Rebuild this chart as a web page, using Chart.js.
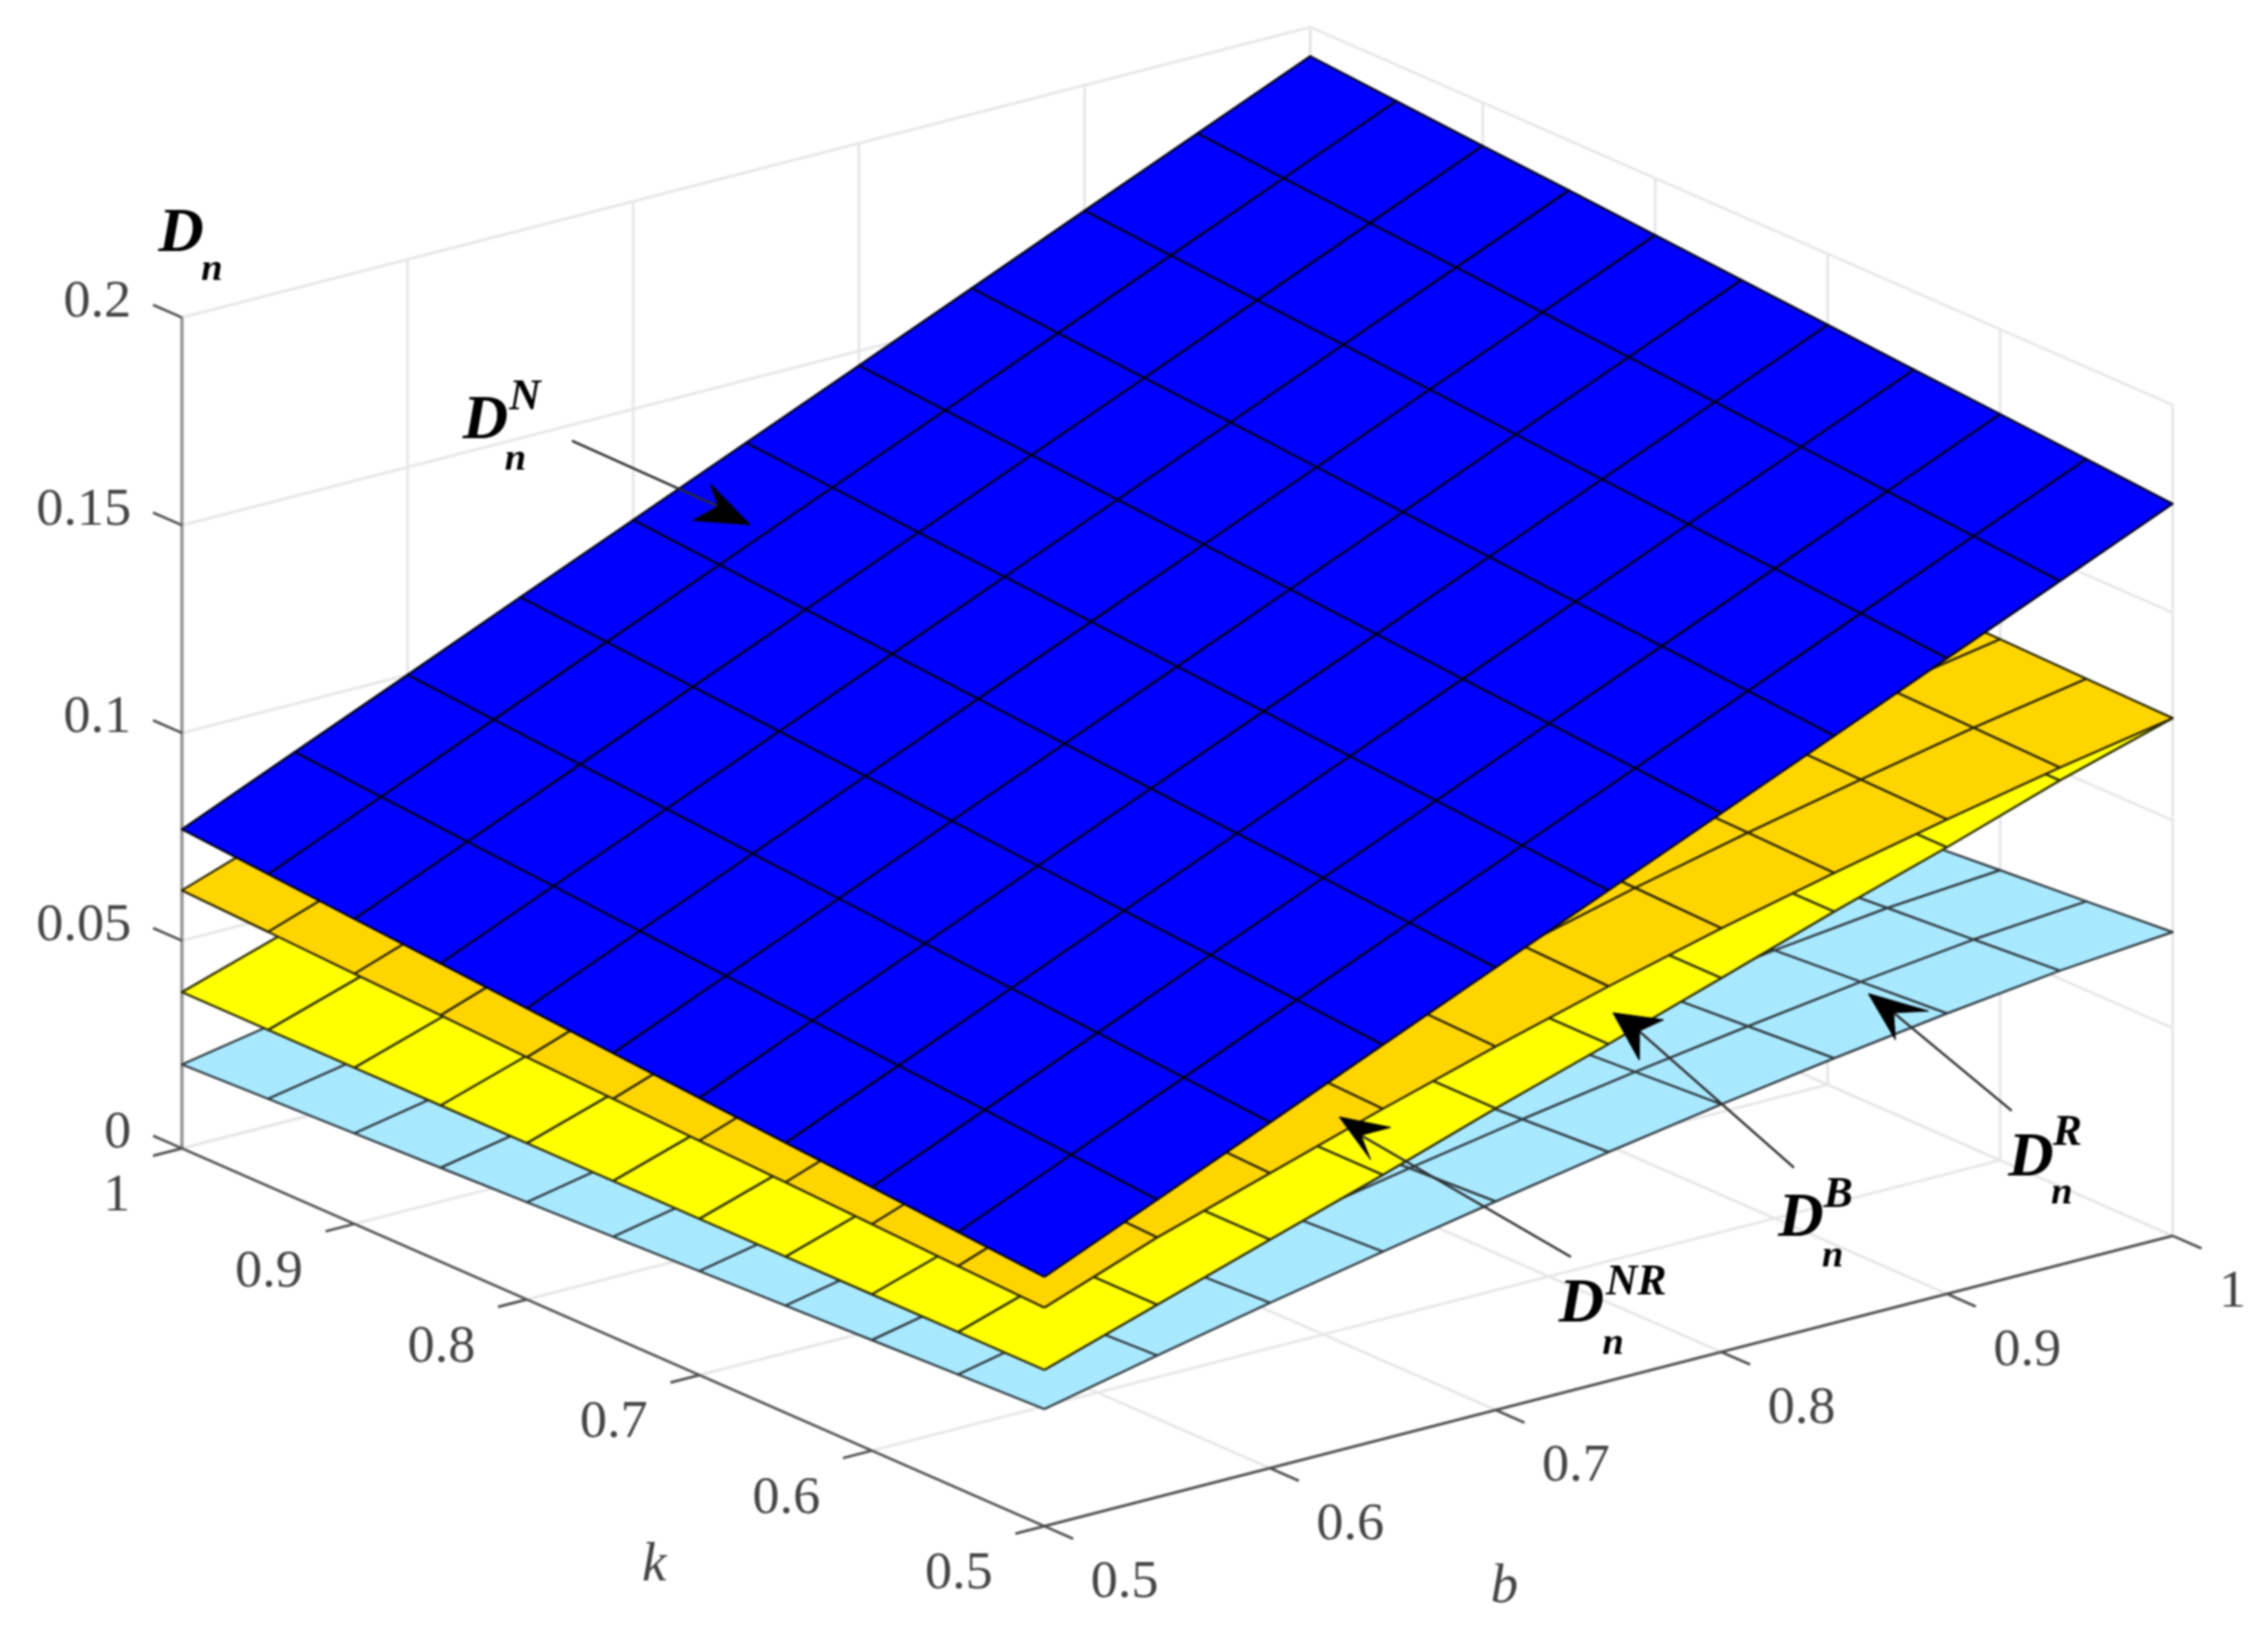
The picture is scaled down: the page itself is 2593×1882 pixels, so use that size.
<!DOCTYPE html>
<html>
<head>
<meta charset="utf-8">
<title>Dn surfaces</title>
<script src="https://cdn.jsdelivr.net/npm/chart.js@4"></script>
<style>
  html, body { margin: 0; padding: 0; background: #fff; overflow: hidden; }
  #wrap { width: 2593px; height: 1882px; }
  /* the source figure is a soft upscaled bitmap */
  #chart { filter: blur(0.9px); }
</style>
</head>
<body>
<div id="wrap"><canvas id="chart" width="2593" height="1882"></canvas></div>
<script>
// axes
const bValues = [0.5, 0.55, 0.6, 0.65, 0.7, 0.75, 0.8, 0.85, 0.9, 0.95, 1];
const kValues = [0.5, 0.55, 0.6, 0.65, 0.7, 0.75, 0.8, 0.85, 0.9, 0.95, 1];
const bTicks = [0.5, 0.6, 0.7, 0.8, 0.9, 1];
const kTicks = [0.5, 0.6, 0.7, 0.8, 0.9, 1];
const zTicks = [0, 0.05, 0.1, 0.15, 0.2];
const bTickLabels = ['0.5', '0.6', '0.7', '0.8', '0.9', '1'];
const kTickLabels = ['0.5', '0.6', '0.7', '0.8', '0.9', '1'];
const zTickLabels = ['0', '0.05', '0.1', '0.15', '0.2'];

// surfaces, one row per k (0.5 -> 1), one value per b (0.5 -> 1)
const surfaceN = [
  [.0600, .0716, .0832, .0949, .1065, .1181, .1297, .1413, .1530, .1646, .1762],
  [.0617, .0733, .0849, .0966, .1082, .1198, .1314, .1430, .1547, .1663, .1779],
  [.0634, .0750, .0866, .0983, .1099, .1215, .1331, .1447, .1564, .1680, .1796],
  [.0650, .0766, .0882, .0999, .1115, .1231, .1347, .1463, .1580, .1696, .1812],
  [.0667, .0783, .0899, .1016, .1132, .1248, .1364, .1480, .1597, .1713, .1829],
  [.0684, .0800, .0916, .1033, .1149, .1265, .1381, .1497, .1614, .1730, .1846],
  [.0701, .0817, .0933, .1050, .1166, .1282, .1398, .1514, .1631, .1747, .1863],
  [.0718, .0834, .0950, .1067, .1183, .1299, .1415, .1531, .1648, .1764, .1880],
  [.0734, .0850, .0966, .1083, .1199, .1315, .1431, .1547, .1664, .1780, .1896],
  [.0751, .0867, .0983, .1100, .1216, .1332, .1448, .1564, .1681, .1797, .1913],
  [.0768, .0884, .1000, .1117, .1233, .1349, .1465, .1581, .1698, .1814, .1930]
];
const surfaceNR = [
  [.0526, .0625, .0710, .0795, .0875, .0950, .1020, .1083, .1142, .1197, .1246],
  [.0535, .0634, .0718, .0803, .0882, .0957, .1026, .1089, .1147, .1202, .1250],
  [.0545, .0643, .0727, .0811, .0890, .0964, .1032, .1094, .1152, .1206, .1254],
  [.0555, .0652, .0735, .0819, .0897, .0970, .1039, .1100, .1157, .1211, .1258],
  [.0564, .0661, .0744, .0827, .0904, .0977, .1045, .1106, .1162, .1215, .1262],
  [.0574, .0670, .0752, .0835, .0912, .0984, .1051, .1112, .1168, .1220, .1266],
  [.0583, .0679, .0760, .0842, .0919, .0991, .1057, .1117, .1173, .1225, .1270],
  [.0593, .0688, .0769, .0850, .0926, .0998, .1063, .1123, .1178, .1229, .1274],
  [.0602, .0697, .0777, .0858, .0933, .1004, .1070, .1129, .1183, .1234, .1278],
  [.0612, .0706, .0786, .0866, .0941, .1011, .1076, .1134, .1188, .1238, .1282],
  [.0621, .0715, .0794, .0874, .0948, .1018, .1082, .1140, .1193, .1243, .1286]
];
// D^B shows no visible change along k, the same b profile is read on every row
const profileB = [.0376, .0463, .0550, .0636, .0726, .0811, .0900, .0990, .1075, .1166, .1246];
const surfaceB = kValues.map(() => profileB);
const surfaceR = [
  [.0282, .0341, .0398, .0451, .0502, .0551, .0596, .0637, .0675, .0708, .0731],
  [.0274, .0332, .0388, .0440, .0491, .0539, .0583, .0623, .0660, .0692, .0714],
  [.0266, .0323, .0379, .0430, .0479, .0526, .0570, .0609, .0645, .0677, .0698],
  [.0258, .0314, .0369, .0419, .0468, .0514, .0557, .0595, .0631, .0661, .0681],
  [.0250, .0305, .0359, .0409, .0456, .0502, .0544, .0581, .0616, .0645, .0665],
  [.0242, .0296, .0349, .0398, .0445, .0489, .0530, .0567, .0601, .0629, .0648],
  [.0234, .0288, .0340, .0387, .0434, .0477, .0517, .0553, .0586, .0614, .0632],
  [.0226, .0279, .0330, .0377, .0422, .0465, .0504, .0539, .0571, .0598, .0615],
  [.0218, .0270, .0320, .0366, .0411, .0453, .0491, .0525, .0557, .0582, .0599],
  [.0210, .0261, .0311, .0356, .0399, .0440, .0478, .0511, .0542, .0567, .0582],
  [.0202, .0252, .0301, .0345, .0388, .0428, .0465, .0497, .0527, .0551, .0566]
];

const WALL = '#e6e6e6';
const AXIS = '#4f4f4f';

// Chart.js has no 3D, so (b, k, z) goes through a fixed oblique view onto the x/y scales
function project(b, k, z) {
  const u = (b - 0.5) / 0.5, v = (k - 0.5) / 0.5;
  return { x: 1194 + 1290 * u - 986 * v, y: 1745 - 332 * u - 432 * v - 4750 * z };
}

function line(points, color, width) {
  return {
    data: points, showLine: true, fill: false, tension: 0,
    borderColor: color, borderWidth: width, pointRadius: 0, clip: false
  };
}

function cell(points, fillColor, edgeColor, width) {
  return {
    data: points, showLine: true, fill: 'shape', tension: 0,
    backgroundColor: fillColor, borderColor: edgeColor, borderWidth: width,
    borderJoinStyle: 'round', pointRadius: 0, clip: false
  };
}

function wallDatasets() {
  const out = [];
  zTicks.forEach(z => {
    out.push(line([project(0.5, 1, z), project(1, 1, z), project(1, 0.5, z)], WALL, 3));
  });
  bTicks.forEach(b => {
    out.push(line([project(b, 0.5, 0), project(b, 1, 0), project(b, 1, 0.2)], WALL, 3));
  });
  kTicks.forEach(k => {
    out.push(line([project(0.5, k, 0), project(1, k, 0), project(1, k, 0.2)], WALL, 3));
  });
  return out;
}

function axisDatasets() {
  const out = [];
  out.push(line([project(0.5, 1, 0), project(0.5, 1, 0.2)], '#9a9a9a', 4));
  out.push(line([project(0.5, 1, 0), project(0.5, 0.5, 0)], AXIS, 3));
  out.push(line([project(0.5, 0.5, 0), project(1, 0.5, 0)], AXIS, 3));
  zTicks.forEach(z => out.push(line([project(0.5, 1, z), project(0.5, 1.0167, z)], AXIS, 3)));
  kTicks.forEach(k => out.push(line([project(0.5, k, 0), project(0.4872, k, 0)], AXIS, 3)));
  bTicks.forEach(b => out.push(line([project(b, 0.5, 0), project(b, 0.4833, 0)], AXIS, 3)));
  return out;
}

function surfaceDatasets(rows, fillColor, edgeColor) {
  const out = [];
  // back cells first
  for (let j = kValues.length - 2; j >= 0; j--) {
    for (let i = bValues.length - 2; i >= 0; i--) {
      out.push(cell([
        project(bValues[i], kValues[j], rows[j][i]),
        project(bValues[i + 1], kValues[j], rows[j][i + 1]),
        project(bValues[i + 1], kValues[j + 1], rows[j + 1][i + 1]),
        project(bValues[i], kValues[j + 1], rows[j + 1][i]),
        project(bValues[i], kValues[j], rows[j][i])
      ], fillColor, edgeColor, 2.5));
    }
  }
  return out;
}

// callout arrows: shaft start, then head tip, two barbs and notch
const arrows = [
  { from: [654, 504], tip: [858, 600], barbA: [812, 553], barbB: [792, 595], notch: [821, 579] },
  { from: [1796, 1437], tip: [1531, 1277], barbA: [1590, 1289], barbB: [1567, 1326], notch: [1556, 1298] },
  { from: [2051, 1335], tip: [1844, 1158], barbA: [1902, 1166], barbB: [1874, 1212], notch: [1874, 1179] },
  { from: [2300, 1270], tip: [2136, 1136], barbA: [2205, 1156], barbB: [2167, 1189], notch: [2165, 1158] }
];

function arrowDatasets() {
  const out = [];
  const pt = p => ({ x: p[0], y: p[1] });
  arrows.forEach(a => {
    out.push(line([pt(a.from), pt(a.notch)], '#2b2b2b', 2.6));
    out.push(cell([pt(a.tip), pt(a.barbA), pt(a.notch), pt(a.barbB), pt(a.tip)], '#000', '#000', 1));
  });
  return out;
}

// paint order, bottom to top. Chart.js paints the first dataset last, hence the reverse
const datasets = [
  ...wallDatasets(),
  ...axisDatasets(),
  ...surfaceDatasets(surfaceR, '#a9e9ff', '#2f3a40'),
  ...surfaceDatasets(surfaceB, '#ffff00', '#2a2a00'),
  ...surfaceDatasets(surfaceNR, '#ffd500', '#2a2400'),
  ...surfaceDatasets(surfaceN, '#0000ff', '#00001e'),
  ...arrowDatasets()
].reverse();

const SERIF = '"Liberation Serif", "Times New Roman", serif';

// name labels: D with subscript n and optional superscript
const nameLabels = [
  { x: 181, y: 287, sup: '', subX: 230, subY: 320 },
  { x: 529, y: 501, sup: 'N', supX: 582, supY: 468, subX: 577, subY: 537 },
  { x: 1782, y: 1511, sup: 'NR', supX: 1836, supY: 1480, subX: 1832, subY: 1548 },
  { x: 2033, y: 1413, sup: 'B', supX: 2085, supY: 1380, subX: 2083, subY: 1448 },
  { x: 2296, y: 1344, sup: 'R', supX: 2347, supY: 1309, subX: 2345, subY: 1376 }
];

const textPlugin = {
  id: 'plotText',
  afterDatasetsDraw(chart) {
    const ctx = chart.ctx;
    const sx = chart.scales.x, sy = chart.scales.y;
    const put = (str, x, y) => ctx.fillText(str, sx.getPixelForValue(x), sy.getPixelForValue(y));
    ctx.save();
    ctx.fillStyle = '#444';
    ctx.font = '62px ' + SERIF;
    ctx.textBaseline = 'middle';

    ctx.textAlign = 'right';
    zTicks.forEach((z, i) => {
      const p = project(0.5, 1, z);
      put(zTickLabels[i], p.x - 58, p.y - 17);
    });
    kTicks.forEach((k, i) => {
      const p = project(0.5, k, 0);
      put(kTickLabels[i], p.x - 59, p.y + 55);
    });
    ctx.textAlign = 'left';
    bTicks.forEach((b, i) => {
      const p = project(b, 0.5, 0);
      put(bTickLabels[i], p.x + 53, p.y + 65);
    });

    ctx.textAlign = 'center';
    ctx.font = 'italic 63px ' + SERIF;
    put('k', 748, 1790);
    put('b', 1720, 1815);

    ctx.fillStyle = '#000';
    ctx.textAlign = 'left';
    ctx.textBaseline = 'alphabetic';
    nameLabels.forEach(l => {
      ctx.font = 'italic bold 72px ' + SERIF;
      put('D', l.x, l.y);
      ctx.font = 'italic bold 44px ' + SERIF;
      put('n', l.subX, l.subY);
      if (l.sup) {
        ctx.font = 'italic bold 50px ' + SERIF;
        put(l.sup, l.supX, l.supY);
      }
    });
    ctx.restore();
  }
};

new Chart(document.getElementById('chart'), {
  type: 'scatter',
  data: { datasets },
  plugins: [textPlugin],
  options: {
    responsive: false,
    animation: false,
    layout: { padding: 0 },
    scales: {
      x: { type: 'linear', min: 0, max: 2593, display: false },
      y: { type: 'linear', min: 0, max: 1882, reverse: true, display: false }
    },
    plugins: { legend: { display: false }, tooltip: { enabled: false } }
  }
});
</script>
</body>
</html>
